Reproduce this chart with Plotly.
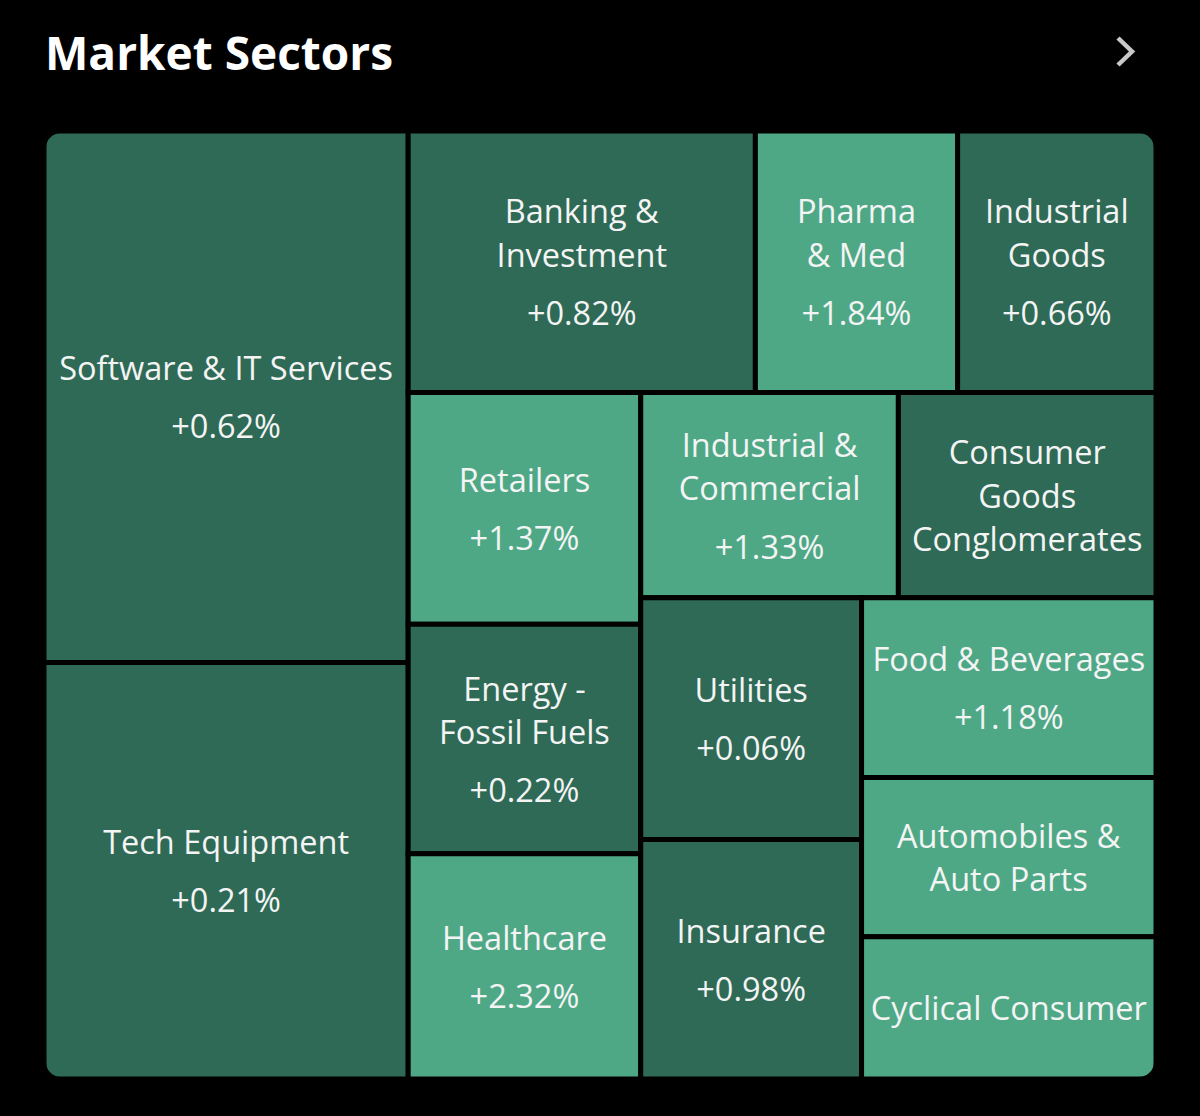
import plotly.graph_objects as go

# ---- data ----
sectors = [
    "Software & IT Services", "Tech Equipment", "Banking &<br>Investment",
    "Pharma<br>& Med", "Industrial<br>Goods", "Retailers",
    "Energy -<br>Fossil Fuels", "Healthcare", "Industrial &<br>Commercial",
    "Consumer<br>Goods<br>Conglomerates", "Utilities", "Insurance",
    "Food & Beverages", "Automobiles &<br>Auto Parts", "Cyclical Consumer",
]
weights = [194, 152, 91, 53, 52, 54, 53.5, 52.5, 53, 53, 53.5, 53, 53, 47, 42]
changes = ["+0.62%", "+0.21%", "+0.82%", "+1.84%", "+0.66%", "+1.37%", "+0.22%",
           "+2.32%", "+1.33%", "", "+0.06%", "+0.98%", "+1.18%", "", ""]
strong = [0, 0, 0, 1, 0, 1, 0, 1, 1, 0, 0, 0, 1, 1, 1]

DARK = "#2e6a56"
LIGHT = "#4ea886"
colors = [LIGHT if s else DARK for s in strong]

FS = 32.5      # glyph size
BASE = 11.2    # base size -> line step of 1.3*BASE px


def span(s):
    return f"<span style='font-size:{FS}px'>{s}</span>"


texts = []
for s, c in zip(sectors, changes):
    t = "<br><br><br>".join(span(part) for part in s.split("<br>"))
    if c:
        t += "<br><br><br><br>" + span(c)
    texts.append(t)

W, H = 1200, 1116
L, T, PW, PH = 44, 131, 1112, 948
B = H - T - PH
R = W - L - PW


def px(x):
    return (x - L) / PW


def py(y):
    return (T + PH - y) / PH


fig = go.Figure(go.Treemap(
    labels=sectors,
    parents=[""] * len(sectors),
    values=weights,
    text=texts,
    textinfo="text",
    sort=False,
    branchvalues="remainder",
    tiling=dict(packing="squarify", squarifyratio=1, pad=0),
    marker=dict(colors=colors, line=dict(color="#000000", width=5), pad=dict(t=0, l=0, r=0, b=0)),
    textposition="middle center",
    textfont=dict(family="Open Sans", size=BASE, color="#f4f4f4"),
    pathbar=dict(visible=False),
    hoverinfo="skip",
))

# rounded outer corners (masks)
k = 0.5523
rad = 15
shapes = []
corners = [(46, 133, 1, 1), (1154, 133, -1, 1), (46, 1077, 1, -1), (1154, 1077, -1, -1)]
for cx, cy, sx, sy in corners:
    ox, oy = cx - 4 * sx, cy - 4 * sy
    path = f"M {px(ox)},{py(oy)} L {px(cx + rad * sx)},{py(oy)} L {px(cx + rad * sx)},{py(cy)} "
    path += (f"C {px(cx + rad * (1 - k) * sx)},{py(cy)} {px(cx)},{py(cy + rad * (1 - k) * sy)} "
             f"{px(cx)},{py(cy + rad * sy)} L {px(ox)},{py(cy + rad * sy)} Z")
    shapes.append(dict(type="path", xref="paper", yref="paper", path=path,
                       fillcolor="#000000", line=dict(width=0), layer="above"))

# chevron
shapes.append(dict(type="path", xref="paper", yref="paper",
                   path=f"M {px(1118)},{py(38)} L {px(1132)},{py(51.5)} L {px(1118)},{py(65)}",
                   line=dict(color="#c9c9c9", width=4.5)))

fig.update_layout(
    width=W, height=H,
    margin=dict(l=L, r=R, t=T, b=B, pad=0),
    paper_bgcolor="#000000", plot_bgcolor="#000000",
    shapes=shapes,
    uniformtext=dict(minsize=BASE, mode="show"),
    annotations=[dict(text="<b>Market Sectors</b>", xref="paper", yref="paper",
                      x=px(43), y=py(52), xanchor="left", yanchor="middle", showarrow=False,
                      font=dict(family="Open Sans", size=46, color="#ffffff"))],
)

fig.write_html("out.html", config={"displayModeBar": False},
               post_script="document.body.style.margin='0';document.body.style.background='#000';")
